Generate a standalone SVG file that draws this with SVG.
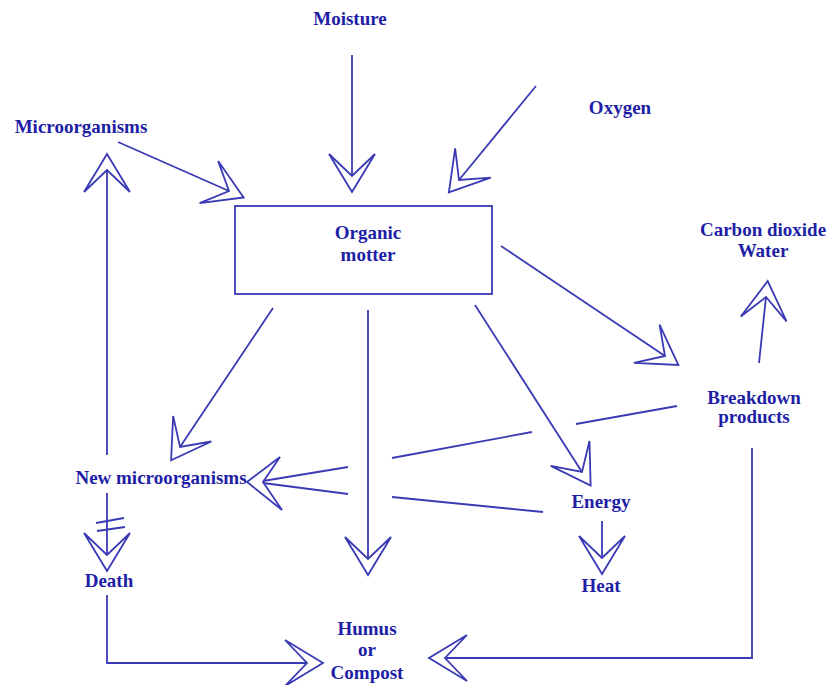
<svg xmlns="http://www.w3.org/2000/svg" width="832" height="685" viewBox="0 0 832 685">
<style>
  .t { font-family: "Liberation Serif", "Times New Roman", serif; font-weight: bold; font-size: 19px; fill: #1e1ea6; text-anchor: middle; }
  .c { stroke: #3a3ab4; stroke-width: 1.8; fill: none; }
  .h { stroke: #3a3ab4; stroke-width: 1.8; fill: none; stroke-linejoin: miter; }
</style>
<defs>
  <marker id="ah" markerUnits="userSpaceOnUse" orient="auto" refX="0" refY="0" viewBox="-26 -26 46 52" markerWidth="46" markerHeight="52" overflow="visible">
    <polygon points="16,0 -22,-23 0,0 -22,23" fill="none" stroke="#3a3ab4" stroke-width="1.8"/>
  </marker>
</defs>
<rect width="832" height="685" fill="#ffffff"/>

<g id="connectors">
  <path class="c" d="M352,55 V176" marker-end="url(#ah)"/>
  <path class="c" d="M536,86 L459,180" marker-end="url(#ah)"/>
  <path class="c" d="M118,142 L229,191" marker-end="url(#ah)"/>
  <path class="c" d="M107,455 V170" marker-end="url(#ah)"/>
  <path class="c" d="M107,493 V555" marker-end="url(#ah)"/>
  <path class="c" d="M96,523 L124,518 M97,531 L125,527"/>
  <path class="c" d="M107,595 V663 H307" marker-end="url(#ah)"/>
  <path class="c" d="M752,448 V658 H445" marker-end="url(#ah)"/>
  <path class="c" d="M368,310 V559" marker-end="url(#ah)"/>
  <path class="c" d="M273,308 L180,447" marker-end="url(#ah)"/>
  <path class="c" d="M475,305 L582,472" marker-end="url(#ah)"/>
  <path class="c" d="M501,246 L665,356" marker-end="url(#ah)"/>
  <path class="c" d="M759,363 L766,297" marker-end="url(#ah)"/>
  <path class="c" d="M602,521 V558" marker-end="url(#ah)"/>
  <path class="c" d="M677,406 L576,424 M532,432 L392,458 M348,467 L263,481"/>
  <path class="c" d="M543,512 L392,497 M348,494 L263,483"/>
  <polygon class="h" points="247,482 280,457 263,482 282,510"/>
</g>

<g id="moisture"><text class="t" x="350" y="25">Moisture</text></g>
<g id="oxygen"><text class="t" x="620" y="114">Oxygen</text></g>
<g id="microorganisms"><text class="t" x="81" y="133">Microorganisms</text></g>
<g id="organic-matter">
  <rect x="235" y="206" width="257" height="88" fill="none" stroke="#3a3ab4" stroke-width="1.8"/>
  <text class="t" x="368" y="239">Organic</text>
  <text class="t" x="368" y="261">motter</text>
</g>
<g id="carbon-dioxide-water">
  <text class="t" x="763" y="236">Carbon dioxide</text>
  <text class="t" x="763" y="257">Water</text>
</g>
<g id="breakdown-products">
  <text class="t" x="754" y="404">Breakdown</text>
  <text class="t" x="754" y="423">products</text>
</g>
<g id="new-microorganisms"><text class="t" x="161" y="484">New microorganisms</text></g>
<g id="energy"><text class="t" x="601" y="508">Energy</text></g>
<g id="heat"><text class="t" x="601" y="592">Heat</text></g>
<g id="death"><text class="t" x="109" y="587">Death</text></g>
<g id="humus-compost">
  <text class="t" x="367" y="635">Humus</text>
  <text class="t" x="367" y="656">or</text>
  <text class="t" x="367" y="679">Compost</text>
</g>
</svg>
